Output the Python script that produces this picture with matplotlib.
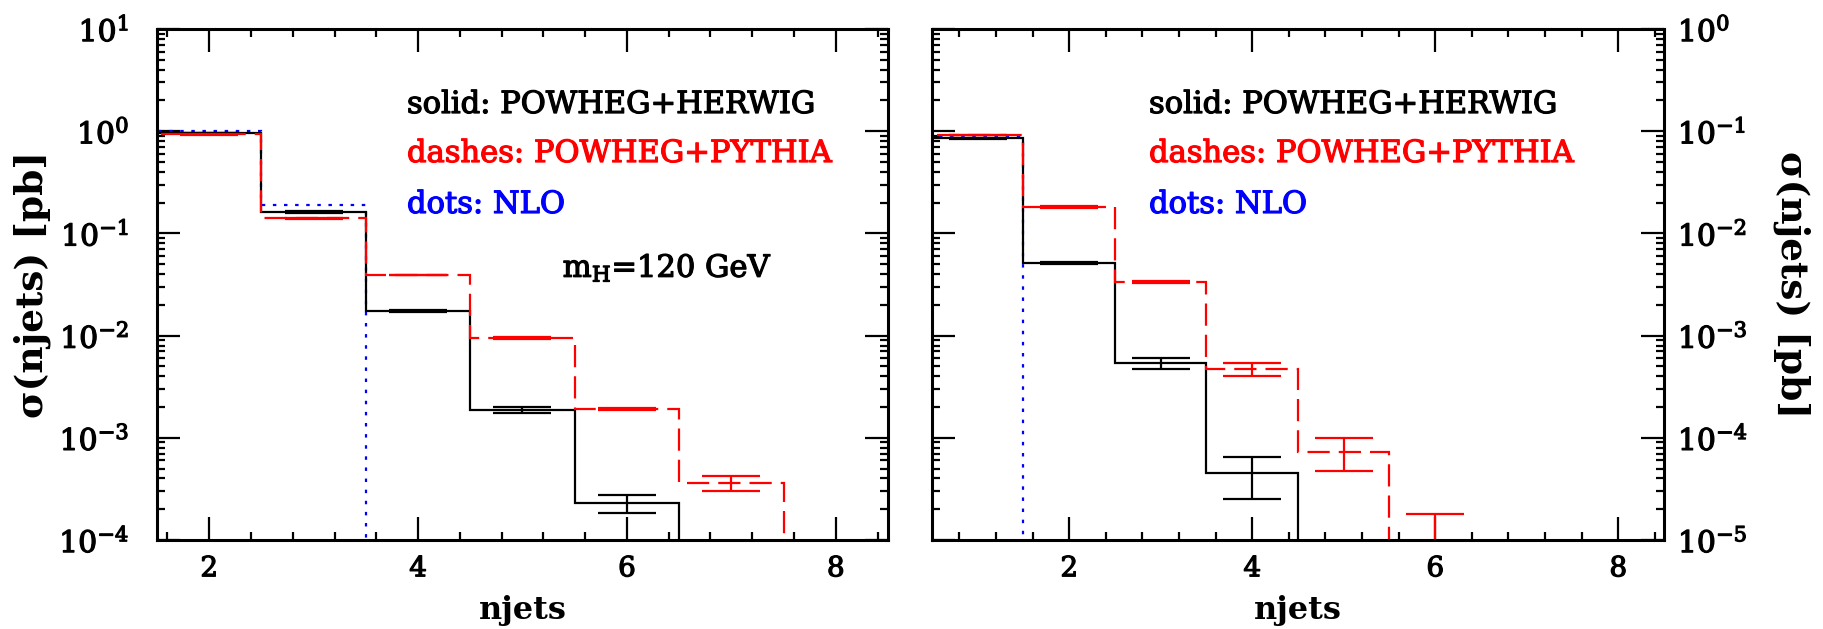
import numpy as np
import matplotlib
matplotlib.use("Agg")
import matplotlib.pyplot as plt
import matplotlib.patheffects as pe
from matplotlib.ticker import MultipleLocator, LogLocator, NullFormatter

plt.rcParams['font.family'] = ['DejaVu Serif']
plt.rcParams['mathtext.fontset'] = 'dejavuserif'
plt.rcParams['lines.scale_dashes'] = False

# left panel: njets = 2..7
left_edges = [1.5, 2.5, 3.5, 4.5, 5.5, 6.5, 7.5]
left_herwig = [0.96, 0.162, 0.0174, 0.00187, 0.000228]
left_herwig_err = [0.005, 0.002, 0.0003, 0.00012, 0.000045]
left_pythia = [0.93, 0.141, 0.0392, 0.00946, 0.00191, 0.000361]
left_pythia_err = [0.005, 0.002, 0.0004, 0.00015, 0.00006, 0.00006]
left_nlo = [1.0, 0.19]

# right panel: njets = 1..6
right_edges = [0.5, 1.5, 2.5, 3.5, 4.5, 5.5, 6.5]
right_herwig = [0.0857, 0.00513, 0.00054, 0.000045]
right_herwig_err = [0.001, 0.00012, 0.000066, 0.00002]
right_pythia = [0.0918, 0.0181, 0.00334, 0.00047, 0.000073, 0.000009]
right_pythia_err = [0.001, 0.0003, 0.0001, 0.00007, 0.000026, 0.000009]
right_nlo = [0.087]

labels = ["solid: POWHEG+HERWIG", "dashes: POWHEG+PYTHIA", "dots: NLO"]
label_colors = ["black", "red", "blue"]


def heavy(color):
    # thicker strokes, closer to the original plotting font
    return [pe.withStroke(linewidth=0.9, foreground=color)]


def draw_panel(ax, edges, herwig, herwig_err, pythia, pythia_err, nlo, ylim, xlim):
    edges = np.array(edges)
    centers = 0.5 * (edges[:-1] + edges[1:])
    base = ylim[0] * 1e-3
    ax.stairs(nlo, edges[:len(nlo) + 1], baseline=base, color="blue",
              lw=1.6, linestyle=(0, (2.5, 5.5)), zorder=2)
    ax.stairs(herwig, edges[:len(herwig) + 1], baseline=base, color="black",
              lw=1.6, zorder=3)
    ax.stairs(pythia, edges[:len(pythia) + 1], baseline=base, color="red",
              lw=1.6, linestyle=(0, (16, 6.5)), zorder=4)
    ax.errorbar(centers[:len(herwig)], herwig, yerr=herwig_err, fmt="none",
                ecolor="black", elinewidth=1.6, capsize=21, capthick=1.6, zorder=5)
    ax.errorbar(centers[:len(pythia)], pythia, yerr=pythia_err, fmt="none",
                ecolor="red", elinewidth=1.6, capsize=21, capthick=1.6, zorder=5)

    ax.set_yscale("log")
    ax.set_ylim(*ylim)
    ax.set_xlim(*xlim)
    ax.xaxis.set_major_locator(MultipleLocator(2))
    ax.xaxis.set_minor_locator(MultipleLocator(0.4))
    ax.yaxis.set_major_locator(LogLocator(base=10, numticks=20))
    ax.yaxis.set_minor_locator(LogLocator(base=10, subs=np.arange(2, 10), numticks=20))
    ax.yaxis.set_minor_formatter(NullFormatter())
    ax.tick_params(which="both", direction="in", top=True, right=True, width=1.6)
    ax.tick_params(axis="x", labelsize=20, pad=11)
    ax.tick_params(axis="y", labelsize=21.5)
    ax.tick_params(which="major", length=16.5)
    ax.tick_params(which="minor", length=6)
    for s in ax.spines.values():
        s.set_linewidth(2.2)
        s.set_zorder(10)
    ax.set_xlabel("njets", fontsize=23, fontweight="bold", labelpad=9)


fig = plt.figure(figsize=(18.24, 6.29), dpi=100)
ax1 = fig.add_axes([157 / 1824, 89 / 629, 731 / 1824, 511 / 629])
ax2 = fig.add_axes([932 / 1824, 89 / 629, 732 / 1824, 511 / 629])

draw_panel(ax1, left_edges, left_herwig, left_herwig_err, left_pythia,
           left_pythia_err, left_nlo, (1e-4, 10), (1.5, 8.5))
draw_panel(ax2, right_edges, right_herwig, right_herwig_err, right_pythia,
           right_pythia_err, right_nlo, (1e-5, 1), (0.5, 8.5))

ax1.tick_params(axis="y", which="major", pad=20)
ax1.set_ylabel("σ(njets) [pb]", fontsize=27, fontweight="bold", labelpad=6)

ax2.tick_params(axis="y", which="major", labelleft=False, labelright=True, pad=10)
ax2.yaxis.set_label_position("right")
ax2.set_ylabel("σ(njets) [pb]", fontsize=27, fontweight="bold",
               rotation=270, va="bottom", labelpad=18)

for ax, x0 in [(ax1, 0.342), (ax2, 0.2965)]:
    for i, (txt, c) in enumerate(zip(labels, label_colors)):
        ax.text(x0, [0.8356, 0.7397, 0.640][i], txt, color=c, fontsize=22,
                transform=ax.transAxes, va="baseline", ha="left",
                path_effects=heavy(c))
    for lab in ax.get_xticklabels() + ax.get_yticklabels():
        lab.set_path_effects(heavy("black"))

ax1.text(0.555, 0.5147, r"m$_\mathrm{H}$=120 GeV", fontsize=22,
         transform=ax1.transAxes, va="baseline", ha="left",
         path_effects=heavy("black"))

fig.savefig("out.png", dpi=100)
